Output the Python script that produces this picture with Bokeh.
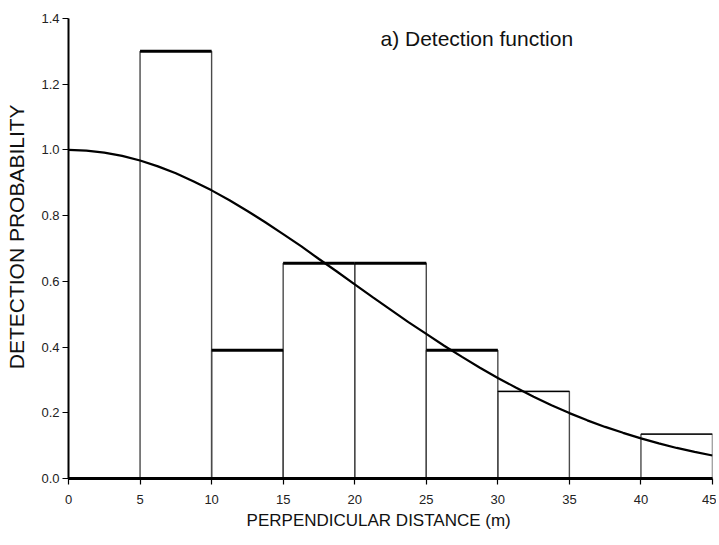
from bokeh.plotting import figure
from bokeh.models import Range1d, FixedTicker, ColumnDataSource, CustomJSTickFormatter
from bokeh.core.properties import value
from bokeh.embed import file_html
from bokeh.resources import INLINE

# Histogram bins (perpendicular distance, m) and scaled frequencies
bin_left = [0, 5, 10, 15, 20, 25, 30, 35, 40]
bin_right = [5, 10, 15, 20, 25, 30, 35, 40, 45]
bin_height = [0.0, 1.30, 0.39, 0.655, 0.655, 0.39, 0.265, 0.0, 0.135]

# Fitted detection function
curve_x = [0, 1.25, 2.5, 3.75, 5, 6.25, 7.5, 8.75, 10, 11.25, 12.5, 13.75,
           15, 16.25, 17.5, 18.75, 20, 21.25, 22.5, 23.75, 25, 26.25, 27.5,
           28.75, 30, 31.25, 32.5, 33.75, 35, 36.25, 37.5, 38.75, 40, 41.25,
           42.5, 43.75, 45]
curve_y = [1.0, 0.998, 0.992, 0.982, 0.968, 0.950, 0.929, 0.904, 0.877,
           0.847, 0.814, 0.780, 0.744, 0.707, 0.668, 0.630, 0.591, 0.552,
           0.514, 0.476, 0.440, 0.404, 0.370, 0.337, 0.306, 0.277, 0.249,
           0.223, 0.199, 0.177, 0.157, 0.139, 0.122, 0.107, 0.093, 0.081,
           0.070]

x_ticks = [0, 5, 10, 15, 20, 25, 30, 35, 40, 45]
y_ticks = [0.0, 0.2, 0.4, 0.6, 0.8, 1.0, 1.2, 1.4]

title_text = "a) Detection function"
x_label = "PERPENDICULAR DISTANCE (m)"
y_label = "DETECTION PROBABILITY"

# style only: line width of each bar's top edge
top_width = [0, 3, 3, 3, 3, 3, 1.3, 3, 1.3]

REG = "'Liberation Sans', Arial"
NBSP = "\u00a0"

p = figure(width=716, height=540, output_backend="svg", toolbar_location=None,
           x_range=Range1d(0, 45), y_range=Range1d(0, 1.4),
           min_border_left=68, min_border_right=4, min_border_top=18,
           min_border_bottom=62)
p.outline_line_color = None
p.grid.grid_line_color = None
p.background_fill_color = "white"

src = ColumnDataSource(dict(left=bin_left, right=bin_right, top=bin_height,
                            bottom=[0] * len(bin_left), tw=top_width))
p.quad(left="left", right="right", top="top", bottom="bottom", source=src,
       fill_color=None, line_color="#4a4a4a", line_width=1.4)
p.segment(x0="left", x1="right", y0="top", y1="top", source=src,
          line_color="black", line_width="tw")

p.line(curve_x, curve_y, line_color="black", line_width=2.2)

p.text(x=[21.8], y=[1.339], text=[title_text], text_font=value(REG),
       text_font_size="21px", text_baseline="middle", text_align="left",
       text_color="#111111")

xa = p.xaxis[0]
xa.ticker = FixedTicker(ticks=x_ticks)
xa.minor_tick_line_color = None
xa.axis_line_width = 3
xa.axis_line_color = "black"
xa.major_tick_out = 6
xa.major_tick_in = 0
xa.major_tick_line_width = 1.2
xa.major_label_text_font = REG
xa.major_label_text_font_size = "13px"
xa.major_label_text_color = "#222222"
xa.major_label_standoff = 10
# trailing no-break spaces nudge the centred title left, as in the reference
xa.axis_label = x_label + NBSP * 5
xa.axis_label_text_font = REG
xa.axis_label_text_font_size = "17px"
xa.axis_label_text_font_style = "normal"
xa.axis_label_text_color = "#111111"
xa.axis_label_standoff = 4

ya = p.yaxis[0]
ya.ticker = FixedTicker(ticks=y_ticks)
ya.formatter = CustomJSTickFormatter(code="return tick.toFixed(1);")
ya.minor_tick_line_color = None
ya.axis_line_width = 2
ya.axis_line_color = "black"
ya.major_tick_out = 6
ya.major_tick_in = 0
ya.major_tick_line_width = 1.2
ya.major_label_text_font = REG
ya.major_label_text_font_size = "13px"
ya.major_label_text_color = "#222222"
ya.major_label_standoff = 3
ya.axis_label = NBSP * 4 + y_label
ya.axis_label_text_font = REG
ya.axis_label_text_font_size = "21px"
ya.axis_label_text_font_style = "normal"
ya.axis_label_text_color = "#111111"
ya.axis_label_standoff = 10

open("out.html", "w").write(file_html(p, INLINE))
